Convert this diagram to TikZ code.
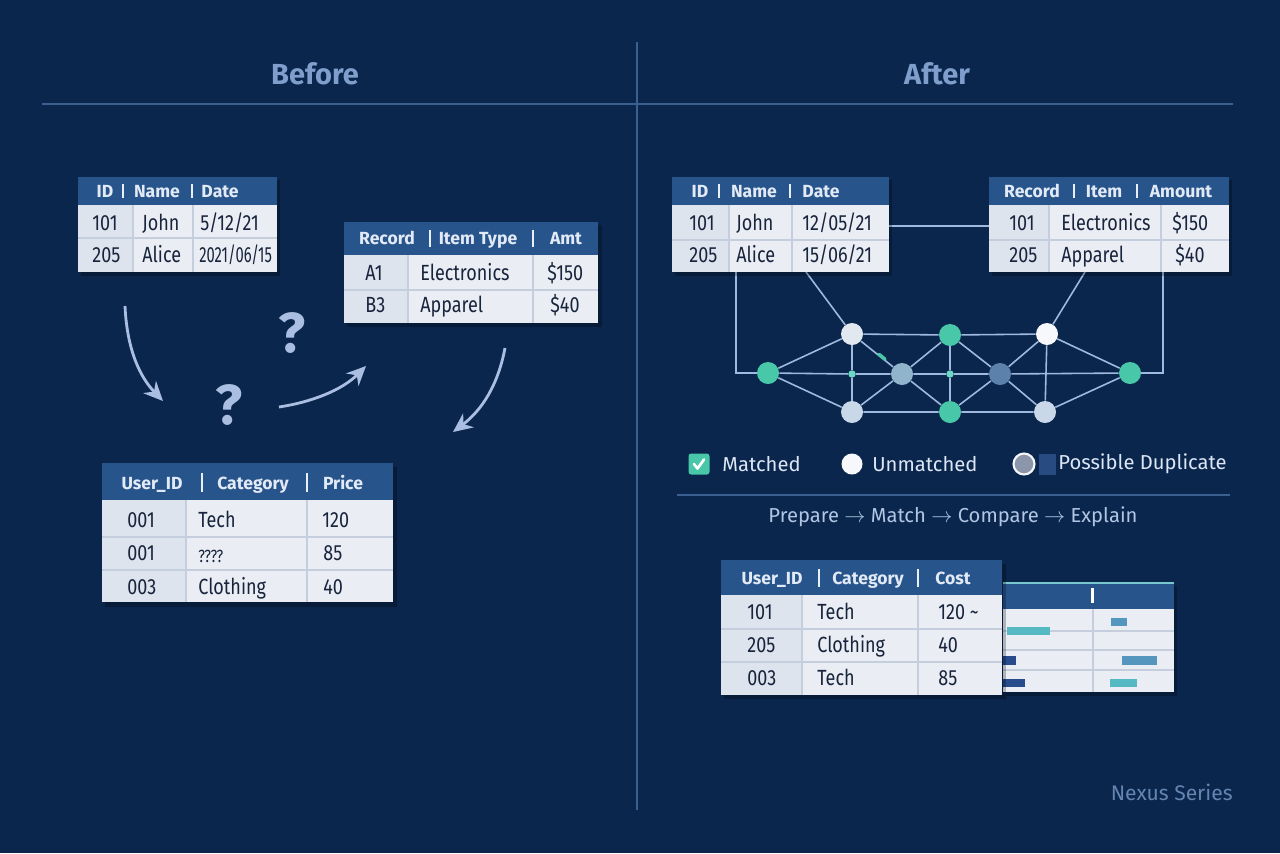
\documentclass[tikz,border=0pt]{standalone}
\usepackage{fontspec}
\setmainfont{Fira Sans}
\newfontfamily\narrowfam{Fira Sans}[FakeStretch=0.82]
\usepackage{tikz}
\usetikzlibrary{arrows.meta, positioning, calc, backgrounds}

\definecolor{BgNavy}{RGB}{10,38,77}
\definecolor{HdrBlue}{RGB}{40,84,140}
\definecolor{HdrText}{RGB}{226,234,246}
\definecolor{CellFill}{RGB}{234,238,244}
\definecolor{CellDark}{RGB}{222,228,237}
\definecolor{GridGray}{RGB}{196,206,221}
\definecolor{InkDark}{RGB}{24,36,60}
\definecolor{RuleBlue}{RGB}{60,95,145}
\definecolor{TitleBlue}{RGB}{128,158,204}
\definecolor{ArrowLt}{RGB}{170,190,226}
\definecolor{EdgeBlue}{RGB}{160,185,222}
\definecolor{MatchTeal}{RGB}{72,200,168}
\definecolor{DotTeal}{RGB}{110,215,200}
\definecolor{NodePale}{RGB}{226,232,240}
\definecolor{NodeSky}{RGB}{200,216,232}
\definecolor{NodeMid}{RGB}{145,180,205}
\definecolor{NodeSteel}{RGB}{92,130,172}
\definecolor{NodeWhite}{RGB}{246,248,251}
\definecolor{BarTeal}{RGB}{85,185,195}
\definecolor{BarSteel}{RGB}{85,150,190}
\definecolor{BarNavy}{RGB}{40,75,140}
\definecolor{DupGray}{RGB}{140,150,170}
\definecolor{DupSquare}{RGB}{40,75,130}
\definecolor{FlowText}{RGB}{178,198,228}
\definecolor{LegText}{RGB}{220,230,245}
\definecolor{SignBlue}{RGB}{100,132,178}

\begin{document}
\begin{tikzpicture}[x=0.02cm, y=-0.02cm,
	hdr/.style={font=\fontsize{10}{12}\selectfont\bfseries, text=HdrText, inner sep=0pt, text height=7.1pt, text depth=0pt},
	cell/.style={font=\narrowfam\fontsize{12.5}{14}\selectfont, text=InkDark, anchor=west, inner sep=0pt, text height=8.7pt, text depth=0pt},
	hsep/.style={HdrText!75, line width=0.8pt},
	gridline/.style={GridGray, line width=0.6pt},
	dropshade/.style={black, opacity=0.25},
	ttl/.style={font=\fontsize{16.5}{20}\selectfont\bfseries, text=TitleBlue},
	qmark/.style={font=\fontsize{32}{36}\selectfont\bfseries, text=ArrowLt},
	curvearrow/.style={-{Stealth[length=11pt, width=10pt]}, ArrowLt, line width=1.6pt},
	nd/.style={circle, minimum size=0.44cm, inner sep=0pt},
	smalldot/.style={circle, fill=DotTeal, minimum size=0.15cm, inner sep=0pt},
	netline/.style={EdgeBlue, line width=0.9pt},
	legtxt/.style={font=\fontsize{11.5}{13}\selectfont, text=LegText, anchor=west, inner sep=0pt}]

	\useasboundingbox (0,0) rectangle (1280,853);

	% frame of the two halves
	\draw[RuleBlue, line width=0.8pt] (42,104) -- (1233,104);
	\draw[RuleBlue, line width=0.8pt] (637,42) -- (637,810);
	\node[ttl] (before) at (315,74) {Before};
	\node[ttl] (after) at (937,74) {After};

	% --- Before: table 1
	\fill[dropshade] (81,180) rectangle (280,276);
	\fill[CellFill] (78,205) rectangle (277,272);
	\fill[CellDark] (78,205) rectangle (133,272);
	\fill[HdrBlue] (78,177) rectangle (277,205);
	\draw[gridline] (78,238) -- (277,238) (133,205) -- (133,272) (193,205) -- (193,272);
	\draw[hsep] (123,184) -- (123,198) (192,184) -- (192,198);
	\foreach \x/\t [count=\i] in {105/ID, 157/Name, 220/Date}
		\node[hdr] (ta-h\i) at (\x,191) {\t};
	\foreach \x/\y/\t [count=\i] in {92/223/101, 142/223/John, 200/223/{5/12/21},
		92/255/205, 142/255/Alice}
		\node[cell] (ta-c\i) at (\x,\y) {\t};
	\node[cell] (ta-c6) at (199,255) {\scalebox{0.82}[1]{2021/06/15}};

	% --- Before: table 2
	\fill[dropshade] (347,225) rectangle (602,327);
	\fill[CellFill] (344,255) rectangle (598,323);
	\fill[CellDark] (344,255) rectangle (408,323);
	\fill[HdrBlue] (344,222) rectangle (598,255);
	\draw[gridline] (344,290) -- (598,290) (408,255) -- (408,323) (533,255) -- (533,323);
	\draw[hsep] (430,230) -- (430,247) (533,230) -- (533,247);
	\foreach \x/\t [count=\i] in {387/Record, 478/Item Type, 566/Amt}
		\node[hdr] (tb-h\i) at (\x,238) {\t};
	\foreach \x/\y/\t [count=\i] in {365/273/A1, 420/273/Electronics, 547/273/\$150,
		365/305/B3, 420/305/Apparel, 550/305/\$40}
		\node[cell] (tb-c\i) at (\x,\y) {\t};

	% --- Before: table 3
	\fill[dropshade] (105,467) rectangle (397,607);
	\fill[CellFill] (102,500) rectangle (393,602);
	\fill[CellDark] (102,500) rectangle (186,602);
	\fill[HdrBlue] (102,463) rectangle (393,500);
	\draw[gridline] (102,537) -- (393,537) (102,570) -- (393,570) (186,500) -- (186,602) (307,500) -- (307,602);
	\draw[hsep] (202,473) -- (202,492) (307,473) -- (307,492);
	\foreach \x/\t [count=\i] in {152/User\_ID, 253/Category, 343/Price}
		\node[hdr] (tc-h\i) at (\x,483) {\t};
	\foreach \x/\y/\t [count=\i] in {127/520/001, 198/520/Tech, 322/520/120,
		127/553/001, 323/553/85,
		127/587/003, 198/587/Clothing, 323/587/40}
		\node[cell] (tc-c\i) at (\x,\y) {\t};
	\node[cell, font=\narrowfam\fontsize{10}{12}\selectfont] (tc-c9) at (198,555) {????};

	% --- Before: loose arrows and question marks
	\coordinate (a1s) at (125,306);
	\coordinate (a1e) at (163,401);
	\coordinate (a2s) at (279,407);
	\coordinate (a2e) at (366,366);
	\coordinate (a3s) at (505,348);
	\coordinate (a3e) at (453,432);
	\draw[curvearrow] (a1s) .. controls (127,350) and (140,377) .. (a1e);
	\draw[curvearrow] (a2s) .. controls (312,402) and (342,390) .. (a2e);
	\draw[curvearrow] (a3s) .. controls (498,385) and (482,410) .. (a3e);
	\node[qmark] (q1) at (292,333) {?};
	\node[qmark] (q2) at (229,405) {?};

	% --- After: table 4
	\fill[dropshade] (675,180) rectangle (892,276);
	\fill[CellFill] (672,205) rectangle (889,272);
	\fill[CellDark] (672,205) rectangle (729,272);
	\fill[HdrBlue] (672,177) rectangle (889,205);
	\draw[gridline] (672,240) -- (889,240) (729,205) -- (729,272) (792,205) -- (792,272);
	\draw[hsep] (719,184) -- (719,198) (790,184) -- (790,198);
	\foreach \x/\t [count=\i] in {700/ID, 754/Name, 821/Date}
		\node[hdr] (td-h\i) at (\x,191) {\t};
	\foreach \x/\y/\t [count=\i] in {689/223/101, 736/223/John, 802/223/{12/05/21},
		689/255/205, 736/255/Alice, 802/255/{15/06/21}}
		\node[cell] (td-c\i) at (\x,\y) {\t};

	% --- After: table 5
	\fill[dropshade] (992,180) rectangle (1232,276);
	\fill[CellFill] (989,205) rectangle (1229,272);
	\fill[CellDark] (989,205) rectangle (1049,272);
	\fill[HdrBlue] (989,177) rectangle (1229,205);
	\draw[gridline] (989,240) -- (1229,240) (1049,205) -- (1049,272) (1161,205) -- (1161,272);
	\draw[hsep] (1074,184) -- (1074,198) (1137,184) -- (1137,198);
	\foreach \x/\t [count=\i] in {1032/Record, 1104/Item, 1181/Amount}
		\node[hdr] (te-h\i) at (\x,191) {\t};
	\foreach \x/\y/\t [count=\i] in {1009/223/101, 1061/223/Electronics, 1172/223/\$150,
		1009/255/205, 1061/255/Apparel, 1175/255/\$40}
		\node[cell] (te-c\i) at (\x,\y) {\t};

	% anchors on the table edges
	\coordinate (td-r) at (889,226);
	\coordinate (te-l) at (989,226);
	\coordinate (td-b1) at (736,272);
	\coordinate (td-b2) at (806,272);
	\coordinate (te-b1) at (1085,272);
	\coordinate (te-b2) at (1163,272);

	% --- After: match graph
	\node[nd, fill=MatchTeal] (nL) at (768,373) {};
	\node[nd, fill=NodePale] (nA) at (852,334) {};
	\node[nd, fill=NodeSky] (nB) at (852,412) {};
	\node[smalldot] (d1) at (852,374) {};
	\node[nd, fill=NodeMid] (nC) at (902,374) {};
	\node[nd, fill=MatchTeal] (nD) at (950,335) {};
	\node[nd, fill=MatchTeal] (nE) at (950,412) {};
	\node[smalldot] (d2) at (950,374) {};
	\node[nd, fill=NodeSteel] (nF) at (1000,374) {};
	\node[nd, fill=NodeWhite] (nG) at (1047,334) {};
	\node[nd, fill=NodeSky] (nH) at (1045,412) {};
	\node[nd, fill=MatchTeal] (nR) at (1130,373) {};

	% --- After: legend
	\node[fill=MatchTeal, rounded corners=1.5pt, minimum size=0.42cm, inner sep=0pt] (chk) at (699,464) {};
	\draw[white, line width=1.5pt, line cap=round, line join=round]
		($(chk.center)+(-5,0)$) -- ++(3.5,4.5) -- ++(6.5,-9);
	\node[legtxt] (lg1) at (722,464) {Matched};
	\node[circle, fill=NodeWhite, minimum size=0.42cm, inner sep=0pt] (lgc1) at (852,464) {};
	\node[legtxt] (lg2) at (872,464) {Unmatched};
	\node[circle, fill=DupGray, draw=NodeWhite, line width=1.2pt, minimum size=0.42cm, inner sep=0pt] (lgc2) at (1024,464) {};
	\node[fill=DupSquare, minimum width=0.34cm, minimum height=0.42cm, inner sep=0pt] (lgs) at (1047,464) {};
	\node[legtxt] (lg3) at (1058,464) {Possible Duplicate};
	\draw[RuleBlue, line width=0.8pt] (677,495) -- (1230,495);
	\node[font=\fontsize{11.5}{13}\selectfont, text=FlowText] (flow) at (953,517)
		{Prepare $\rightarrow$ Match $\rightarrow$ Compare $\rightarrow$ Explain};

	% --- After: chart behind table 6
	\fill[dropshade] (1006,586) rectangle (1177,696);
	\fill[CellFill] (1003,608) rectangle (1174,692);
	\fill[HdrBlue] (1003,583) rectangle (1174,609);
	\draw[BarTeal!80, line width=0.8pt] (1003,583) -- (1174,583);
	\draw[gridline] (1003,631) -- (1174,631) (1003,650) -- (1174,650) (1003,670) -- (1174,670)
		(1093,609) -- (1093,692);
	\fill[white] (1091,588) rectangle (1094,603);
	\fill[BarSteel] (1111,618) rectangle (1127,626);
	\fill[BarTeal] (1007,627) rectangle (1050,635);
	\fill[BarNavy] (1003,656) rectangle (1016,665);
	\fill[BarSteel] (1122,656) rectangle (1157,665);
	\fill[BarNavy] (1003,679) rectangle (1025,687);
	\fill[BarTeal] (1110,679) rectangle (1137,687);

	% --- After: table 6
	\fill[dropshade] (724,564) rectangle (1006,699);
	\fill[CellFill] (721,595) rectangle (1002,695);
	\fill[CellDark] (721,595) rectangle (802,695);
	\fill[HdrBlue] (721,560) rectangle (1002,595);
	\draw[gridline] (721,629) -- (1002,629) (721,662) -- (1002,662) (802,595) -- (802,695) (918,595) -- (918,695);
	\draw[hsep] (819,569) -- (819,587) (918,569) -- (918,587);
	\foreach \x/\t [count=\i] in {772/User\_ID, 868/Category, 953/Cost}
		\node[hdr] (tf-h\i) at (\x,578) {\t};
	\foreach \x/\y/\t [count=\i] in {747/612/101, 817/612/Tech, 938/612/120 \char`\~,
		747/645/205, 817/645/Clothing, 938/645/40,
		747/678/003, 817/678/Tech, 938/678/85}
		\node[cell] (tf-c\i) at (\x,\y) {\t};

	\node[font=\fontsize{12}{14}\selectfont, text=SignBlue, anchor=east, inner sep=0pt] (sign) at (1233,792) {Nexus Series};

	% connectors, under everything
	\begin{scope}[on background layer]
		\fill[BgNavy] (0,0) rectangle (1280,853);
		\draw[netline] (td-r) -- (te-l);
		\draw[netline] (td-b1) |- (nL);
		\draw[netline] (nR) -| (te-b2);
		\draw[netline] (td-b2) -- (nA);
		\draw[netline] (te-b1) -- (nG);
		\draw[netline] (nL) -- (d1) -- (nC) -- (d2) -- (nF) -- (nR);
		\draw[netline] (nL) -- (nA) -- (nD) -- (nG) -- (nR);
		\draw[netline] (nL) -- (nB) -- (nE) -- (nH) -- (nR);
		\draw[netline] (nA) -- (d1) -- (nB);
		\draw[netline] (nD) -- (d2) -- (nE);
		\draw[netline] (nG) -- (nH);
		\draw[netline] (nA) -- (nC) -- (nB);
		\draw[netline] (nC) -- (nD) -- (nF);
		\draw[netline] (nC) -- (nE) -- (nF);
		\draw[netline] (nF) -- (nG);
		\draw[netline] (nF) -- (nH);
	\end{scope}
	\draw[MatchTeal, line width=2pt, line cap=round] ($(nA)!0.56!(nC)+(-1,-2)$) -- ($(nA)!0.68!(nC)+(-1,-2)$);
\end{tikzpicture}
\end{document}
